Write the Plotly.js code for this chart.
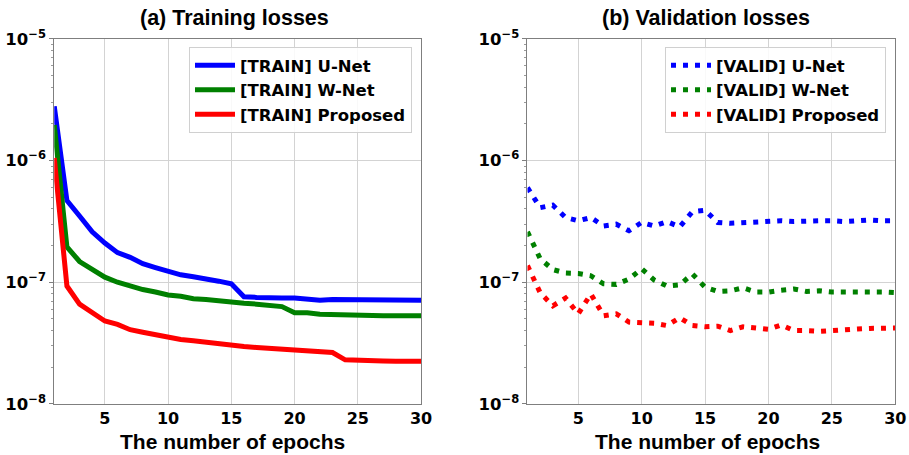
<!DOCTYPE html>
<html>
<head>
<meta charset="utf-8">
<script src="https://cdn.plot.ly/plotly-3.0.1.min.js"></script>
<style>html,body{margin:0;padding:0;background:#fff;}#chart{width:909px;height:455px;}</style>
</head>
<body>
<div id="chart"></div>
<script>
const epochs = [1,2,3,4,5,6,7,8,9,10,11,12,13,14,15,16,17,18,19,20,21,22,23,24,25,26,27,28,29,30];

const trainUNet = [2.8e-6,4.7e-7,3.5e-7,2.6e-7,2.1e-7,1.75e-7,1.6e-7,1.42e-7,1.32e-7,1.22e-7,1.15e-7,1.11e-7,1.07e-7,1.02e-7,0.97e-7,7.6e-8,7.5e-8,7.4e-8,7.4e-8,7.4e-8,7.3e-8,7.1e-8,7.2e-8,7.2e-8,7.1e-8,7.1e-8,7.2e-8,7.2e-8,7.1e-8,7.1e-8];
const trainWNet = [1.96e-6,1.95e-7,1.48e-7,1.26e-7,1.1e-7,1.0e-7,0.93e-7,8.7e-8,8.3e-8,7.85e-8,7.66e-8,7.3e-8,7.2e-8,7.0e-8,6.87e-8,6.7e-8,6.6e-8,6.5e-8,6.3e-8,5.6e-8,5.6e-8,5.45e-8,5.4e-8,5.35e-8,5.35e-8,5.3e-8,5.3e-8,5.3e-8,5.3e-8,5.3e-8];
const trainProposed = [1.05e-6,9.3e-8,6.6e-8,5.6e-8,4.8e-8,4.5e-8,4.07e-8,3.88e-8,3.7e-8,3.5e-8,3.38e-8,3.3e-8,3.2e-8,3.1e-8,3.0e-8,2.96e-8,2.9e-8,2.85e-8,2.8e-8,2.75e-8,2.7e-8,2.67e-8,2.64e-8,2.3e-8,2.27e-8,2.28e-8,2.25e-8,2.24e-8,2.24e-8,2.24e-8];

const validUNet = [6.0e-7,4.1e-7,4.3e-7,3.4e-7,3.2e-7,3.4e-7,2.9e-7,3.0e-7,2.65e-7,3.1e-7,2.9e-7,3.15e-7,2.85e-7,3.8e-7,3.9e-7,3.1e-7,3.05e-7,3.1e-7,3.15e-7,3.2e-7,3.2e-7,3.15e-7,3.2e-7,3.2e-7,3.2e-7,3.15e-7,3.2e-7,3.25e-7,3.2e-7,3.2e-7];
const validWNet = [2.6e-7,1.56e-7,1.27e-7,1.19e-7,1.18e-7,1.13e-7,0.97e-7,0.96e-7,1.06e-7,1.29e-7,1.04e-7,0.93e-7,0.95e-7,1.17e-7,0.91e-7,8.4e-8,8.5e-8,9.0e-8,8.3e-8,8.3e-8,8.6e-8,8.8e-8,8.4e-8,8.5e-8,8.3e-8,8.3e-8,8.3e-8,8.4e-8,8.3e-8,8.2e-8];
const validProposed = [1.37e-7,8.2e-8,6.4e-8,7.4e-8,5.5e-8,8.0e-8,5.3e-8,5.5e-8,4.7e-8,4.7e-8,4.6e-8,4.4e-8,5.1e-8,4.4e-8,4.3e-8,4.35e-8,4.0e-8,4.3e-8,4.15e-8,4.1e-8,4.45e-8,4.0e-8,4.0e-8,3.95e-8,4.0e-8,4.1e-8,4.12e-8,4.17e-8,4.17e-8,4.2e-8];

const trainNames = ['[TRAIN] U-Net','[TRAIN] W-Net','[TRAIN] Proposed'];
const validNames = ['[VALID] U-Net','[VALID] W-Net','[VALID] Proposed'];
const xTicks = [5,10,15,20,25,30];
const yTickVals = [1e-8,1e-7,1e-6,1e-5];
const yTickText = ['10<sup>−8</sup>','10<sup>−7</sup>','10<sup>−6</sup>','10<sup>−5</sup>'];
const colors = ['#0000ff','#008000','#ff0000'];

const BOLD = 'DejaVu Sans';
const traces = [];
[trainUNet, trainWNet, trainProposed].forEach((ys,i)=>{
  traces.push({x:epochs, y:ys, type:'scatter', mode:'lines', name:trainNames[i],
    line:{color:colors[i], width:5}, xaxis:'x', yaxis:'y', legend:'legend'});
});
[validUNet, validWNet, validProposed].forEach((ys,i)=>{
  traces.push({x:epochs, y:ys, type:'scatter', mode:'lines', name:validNames[i],
    line:{color:colors[i], width:5, dash:'5px,7px'}, xaxis:'x2', yaxis:'y2', legend:'legend2'});
});

const xAx = (dom, anchor) => ({
  domain: dom, anchor: anchor, range:[1,30], tickvals:xTicks, showgrid:true, gridcolor:'#d3d3d3', gridwidth:1,
  showline:true, linecolor:'#7f7f7f', linewidth:1, mirror:true, zeroline:false,
  ticks:'', tickfont:{family:BOLD, size:16, color:'#000', weight:'bold'}
});
const yAx = (anchor) => ({
  domain:[0.1125,0.9143], anchor: anchor, type:'log', range:[-8,-5], tickvals:yTickVals, ticktext:yTickText,
  showgrid:true, gridcolor:'#d3d3d3', gridwidth:1, showline:true, linecolor:'#7f7f7f', linewidth:1, mirror:true,
  zeroline:false, ticks:'outside', ticklen:4, tickcolor:'#7f7f7f',
  minor:{ticks:'outside', ticklen:2, tickcolor:'#9a9a9a', dtick:'D1', showgrid:false},
  tickfont:{family:BOLD, size:16.5, color:'#000', weight:'bold'}
});

const legendBase = {
  font:{family:BOLD, size:16.5, color:'#000', weight:'bold'},
  bgcolor:'rgba(255,255,255,0.85)', bordercolor:'#d0d0d0', borderwidth:1,
  xanchor:'left', yanchor:'top', itemwidth:40, tracegroupgap:0
};

const titleFont = {family:'Liberation Sans, Arial', size:21.5, color:'#000', weight:'bold'};
const axFont = {family:'Liberation Sans, Arial', size:21, color:'#000', weight:'bold'};

const layout = {
  width:909, height:455, margin:{l:0,r:0,t:0,b:0}, paper_bgcolor:'#fff', plot_bgcolor:'#fff',
  showlegend:true,
  xaxis: xAx([0.0597,0.4632],'y'),
  yaxis: yAx('x'),
  xaxis2: xAx([0.5803,0.9849],'y2'),
  yaxis2: yAx('x2'),
  legend: Object.assign({x:189/909, y:1-47/455}, legendBase),
  legend2: Object.assign({x:665/909, y:1-47/455}, legendBase),
  annotations:[
    {text:'<b>(a) Training losses</b>', x:234/909, y:1-18/455, xref:'paper', yref:'paper', showarrow:false, xanchor:'center', yanchor:'middle', font:titleFont},
    {text:'<b>(b) Validation losses</b>', x:706/909, y:1-18/455, xref:'paper', yref:'paper', showarrow:false, xanchor:'center', yanchor:'middle', font:titleFont},
    {text:'<b>The number of epochs</b>', x:233/909, y:1-441/455, xref:'paper', yref:'paper', showarrow:false, xanchor:'center', yanchor:'middle', font:axFont},
    {text:'<b>The number of epochs</b>', x:707/909, y:1-441/455, xref:'paper', yref:'paper', showarrow:false, xanchor:'center', yanchor:'middle', font:axFont}
  ]
};

Plotly.newPlot('chart', traces, layout, {displayModeBar:false, staticPlot:true});
</script>
</body>
</html>
